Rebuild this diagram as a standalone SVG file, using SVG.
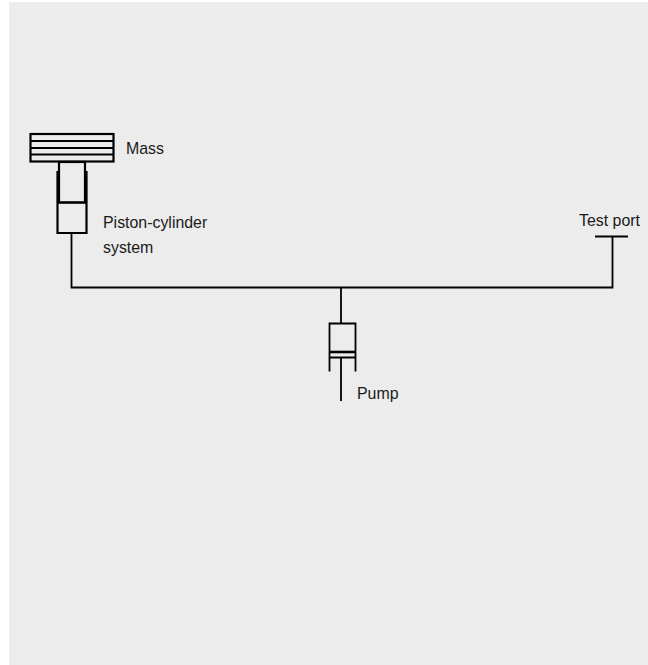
<svg xmlns="http://www.w3.org/2000/svg" width="648" height="665" viewBox="0 0 648 665">
<style>
.l{fill:none;stroke:#000;stroke-width:1.8}
.h{fill:none;stroke:#000;stroke-width:2.2}
.t{font-family:"Liberation Sans",Arial,sans-serif;font-size:15.9px;fill:#1a1a1a}
</style>
<rect width="648" height="665" fill="#fff"/>
<rect x="9" y="2" width="639" height="663" fill="#ececec"/>
<g id="connectors">
<path class="l" d="M71.500 233V287.500H612.500V237"/>
<path class="l" d="M341 287.500V323"/>
</g>
<g id="mass">
<rect class="h" x="30.500" y="134" width="83" height="27.500"/>
<path class="h" d="M30 141H114M30 148H114M30 154.500H114"/>
<text class="t" x="126" y="154">Mass</text>
</g>
<g id="piston-cylinder">
<rect class="h" x="59" y="162" width="26" height="40.500"/>
<path class="h" d="M57.500 171V233H86.500V171M57.500 202.500H86.500"/>
<text class="t" x="103" y="227.500">Piston-cylinder</text>
<text class="t" x="103" y="252.500">system</text>
</g>
<g id="test-port">
<path class="l" d="M595 236.500H628"/>
<text class="t" x="579" y="226">Test port</text>
</g>
<g id="pump">
<path class="l" d="M329.500 371.500V323.500H355.500V371.500M329.500 357.500H355.500M341 357.500V401"/>
<path class="h" style="stroke-width:2.6" d="M329.500 352H355.500"/>
<text class="t" x="357" y="398.500">Pump</text>
</g>
</svg>
